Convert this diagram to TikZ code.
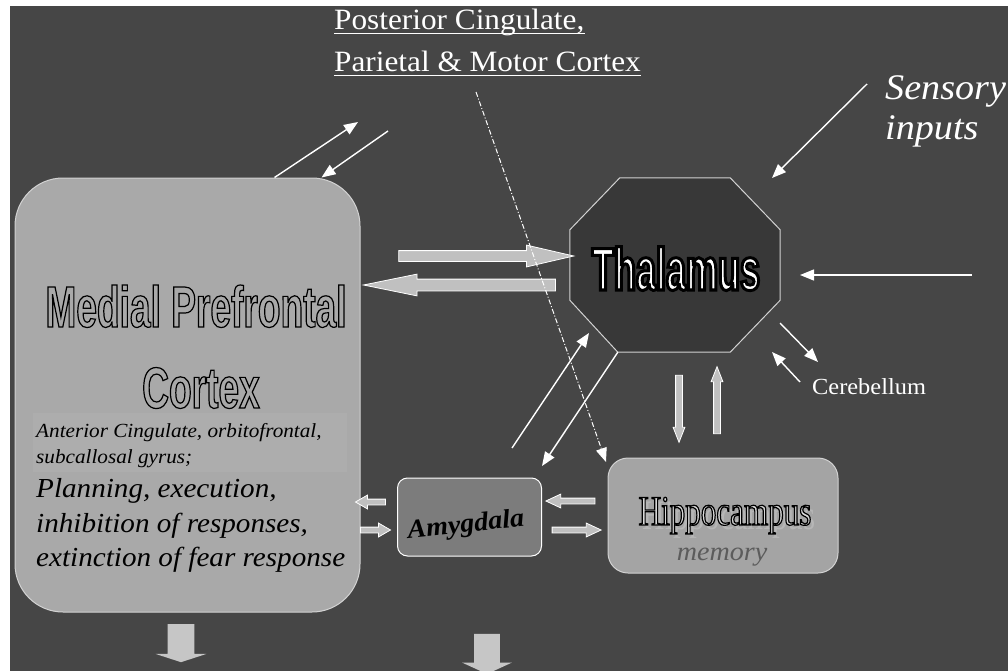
\documentclass[tikz,border=0pt]{standalone}
\usepackage{fontspec}
\setmainfont{Liberation Serif}[FakeStretch=1.06]
\newfontfamily\hipposerif{Liberation Serif}[FakeStretch=0.74]
\newfontfamily\mpfcsans{Liberation Sans}[FakeStretch=0.64]
\newfontfamily\thalsans{Liberation Sans}[FakeStretch=0.6]
\usepackage{tikz}
\usetikzlibrary{positioning,calc,arrows.meta,shapes.arrows}
\newcommand*{\fsz}[2]{\fontsize{#1}{#2}\selectfont}
% glyphs filled in the current colour and stroked in black
\newcommand*{\outlined}[2]{\special{pdf:literal direct #1 w 0 0 0 RG 2 Tr}#2\special{pdf:literal direct 0 Tr}}

\definecolor{slidebg}{HTML}{464646}
\definecolor{mpfcfill}{HTML}{A9A9A9}
\definecolor{notefill}{HTML}{ADADAD}
\definecolor{hippofill}{HTML}{A4A4A4}
\definecolor{hippoink}{HTML}{D8D8D8}
\definecolor{hipposhadow}{HTML}{B6B6B6}
\definecolor{amyfill}{HTML}{7C7C7C}
\definecolor{thalfill}{HTML}{383838}
\definecolor{boxline}{HTML}{D2D2D2}
\definecolor{blockfill}{HTML}{C0C0C0}
\definecolor{outfill}{HTML}{C6C6C6}
\definecolor{memorygray}{HTML}{5C5C5C}

\begin{document}
\begin{tikzpicture}[x=1pt,y=-1pt,
  box/.style={draw=boxline,line width=1pt,inner sep=0pt},
  txt/.style={inner sep=0pt,anchor=base west},
  ctxt/.style={inner sep=0pt,anchor=base},
  wire/.style={draw=white,line width=1.4pt,-{Triangle[length=14pt,width=11pt]}},
  blockarrow/.style={single arrow,draw=white,line width=.8pt,fill=blockfill,
    inner xsep=0pt,single arrow head indent=0pt}]
\useasboundingbox (0,0) rectangle (1008,671);
\fill[white] (0,0) rectangle (1008,671);
\fill[slidebg] (10,6) rectangle (1008,671);

% boxes
\node[box,rounded corners=48pt,fill=mpfcfill,minimum width=345pt,minimum height=434pt] (mpfc) at (187.5,395) {};
\fill[notefill] (33,413) rectangle (347,472);
\node[inner sep=0pt,minimum width=210pt,minimum height=174pt] (thal) at (675,265) {};
\draw[box,fill=thalfill] ($(thal.north west)+(50,0)$) -- ($(thal.north east)+(-50,0)$)
  -- ($(thal.north east)+(0,52)$) -- ($(thal.south east)+(0,-52)$)
  -- ($(thal.south east)+(-50,0)$) -- ($(thal.south west)+(48,0)$)
  -- ($(thal.south west)+(0,-52)$) -- ($(thal.north west)+(0,52)$) -- cycle;
\node[box,rounded corners=20pt,fill=hippofill,minimum width=230pt,minimum height=115pt] (hippo) at (723,515.5) {};
\node[box,draw=white,rounded corners=10pt,fill=amyfill,minimum width=144pt,minimum height=78pt] (amy) at (469.5,517) {};

% block arrows
\node[blockarrow,minimum height=175pt,inner ysep=5pt,single arrow head extend=5.5pt,single arrow tip angle=26] (toThal) at (474.5,256) {};
\node[blockarrow,rotate=180,minimum height=192pt,inner ysep=5.5pt,single arrow head extend=5pt,single arrow tip angle=23] (fromThal) at (474,285) {};
\node[blockarrow,rotate=180,minimum height=30pt,inner ysep=2.5pt,single arrow head extend=4pt,single arrow tip angle=60] (amyToMpfc) at (373,502) {};
\node[blockarrow,minimum height=30pt,inner ysep=2.5pt,single arrow head extend=4pt,single arrow tip angle=60] (mpfcToAmy) at (373,530) {};
\node[blockarrow,rotate=180,minimum height=49pt,inner ysep=2.5pt,single arrow head extend=4pt,single arrow tip angle=50] (hippoToAmy) at (573.5,501) {};
\node[blockarrow,minimum height=49pt,inner ysep=2.5pt,single arrow head extend=4pt,single arrow tip angle=50] (amyToHippo) at (573.5,530) {};
\node[blockarrow,rotate=-90,minimum height=67pt,inner ysep=3pt,single arrow head extend=2.5pt,single arrow tip angle=43] (thalToHippo) at (679,404.5) {};
\node[blockarrow,rotate=90,minimum height=67pt,inner ysep=3pt,single arrow head extend=2.5pt,single arrow tip angle=43] (hippoToThal) at (717,404.5) {};
\node[blockarrow,draw=none,fill=outfill,rotate=-90,minimum height=38pt,inner ysep=13pt,single arrow head extend=12pt,single arrow tip angle=144] (mpfcOut) at (181,641) {};
\node[blockarrow,draw=none,fill=outfill,rotate=-90,minimum height=40pt,inner ysep=12.5pt,single arrow head extend=12pt,single arrow tip angle=131] (amyOut) at (487,651) {};

% thin connectors
\coordinate (pcUp) at (358,122);
\coordinate (pcDown) at (388,131);
\coordinate (sensTail) at (867,84);
\coordinate (sensTip) at (772,178);
\coordinate (rightTail) at (972,275);
\coordinate (rightTip) at (800,275);
\coordinate (cerOutTail) at (780,323);
\coordinate (cerOutTip) at (818,362);
\coordinate (cerInTail) at (800,382);
\coordinate (cerInTip) at (772,352);
\coordinate (amyUpTail) at (512,448);
\coordinate (amyUpTip) at (589,333);
\coordinate (amyDownTip) at (542,466);
\coordinate (pcDashTail) at (476,92);
\coordinate (pcDashTip) at (606,462);
\draw[wire] ($(mpfc.north)+(87,0)$) -- (pcUp);
\draw[wire] (pcDown) -- ($(mpfc.north)+(134,0)$);
\draw[wire] (sensTail) -- (sensTip);
\draw[wire] (rightTail) -- (rightTip);
\draw[wire] (cerOutTail) -- (cerOutTip);
\draw[wire] (cerInTail) -- (cerInTip);
\draw[wire] (amyUpTail) -- (amyUpTip);
\draw[wire] ($(thal.south west)+(48,0)$) -- (amyDownTip);
\draw[wire,line width=1pt,dash pattern=on 5pt off 2pt on 1pt off 2pt] (pcDashTail) -- (pcDashTip);

% texts
\node[txt,white] (pc1) at (334,30) {\fsz{29.5}{31}Posterior Cingulate,};
\node[txt,white] (pc2) at (334,72) {\fsz{29.5}{31}Parietal \& Motor Cortex};
\draw[white,line width=1pt] ($(pc1.base west)+(0,4)$) -- ($(pc1.base east)+(0,4)$);
\draw[white,line width=1pt] ($(pc2.base west)+(0,4)$) -- ($(pc2.base east)+(0,4)$);
\node[txt,white] (sens1) at (885,100) {\fsz{36}{38}\itshape Sensory};
\node[txt,white] (sens2) at (885,140) {\fsz{36}{38}\itshape inputs};
\node[ctxt,text=mpfcfill] (mpfc1) at (196,327) {\mpfcsans\bfseries\fsz{58}{60}\outlined{1.2}{Medial Prefrontal}};
\node[ctxt,text=mpfcfill] (mpfc2) at (201,408) {\mpfcsans\bfseries\fsz{58}{60}\outlined{1.2}{Cortex}};
\node[txt] (note1) at (36,437) {\fsz{20}{22}\itshape Anterior Cingulate, orbitofrontal,};
\node[txt] (note2) at (36,463) {\fsz{20}{22}\itshape subcallosal gyrus;};
\node[txt] (role1) at (36,497) {\fsz{27.5}{30}\itshape Planning, execution,};
\node[txt] (role2) at (36,532) {\fsz{27.5}{30}\itshape inhibition of responses,};
\node[txt] (role3) at (36,566) {\fsz{27.5}{30}\itshape extinction of fear response};
\node[ctxt,text=white] (thaltext) at (676,290) {\thalsans\bfseries\fsz{60}{60}\outlined{3}{Thalamus}};
\node[ctxt,text=hipposhadow] (hipposhade) at (729,529) {\hipposerif\fsz{42}{42}Hippocampus};
\node[ctxt,text=hippoink] (hippotext) at (725,525) {\hipposerif\fsz{42}{42}\outlined{1.2}{Hippocampus}};
\node[ctxt,text=memorygray] (memory) at (722,560) {\fsz{26.5}{27}\itshape memory};
\node[inner sep=0pt,rotate=6] (amytext) at (466,526) {\fsz{26.5}{27}\bfseries\itshape Amygdala};
\node[txt,white] (cereb) at (812,394) {\fsz{23}{23}Cerebellum};
\end{tikzpicture}
\end{document}
